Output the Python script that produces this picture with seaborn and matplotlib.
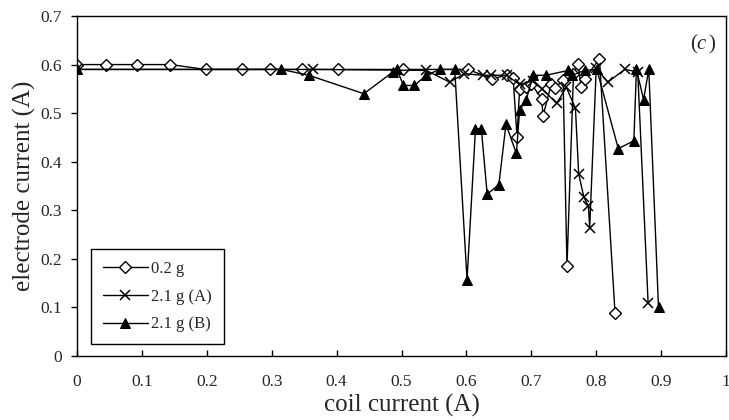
import pandas as pd
import matplotlib
matplotlib.use("Agg")
import matplotlib.pyplot as plt
import seaborn as sns

# 0.2 g (open diamonds)
x_02 = [0.0, 0.044, 0.092, 0.144, 0.198, 0.254, 0.298, 0.346, 0.402, 0.503,
        0.602, 0.64, 0.662, 0.672, 0.678, 0.682, 0.692, 0.70, 0.716, 0.718,
        0.731, 0.736, 0.749, 0.755, 0.765, 0.772, 0.777, 0.782, 0.805, 0.829]
y_02 = [0.60, 0.60, 0.60, 0.60, 0.59, 0.59, 0.59, 0.59, 0.59, 0.59,
        0.59, 0.571, 0.578, 0.573, 0.451, 0.55, 0.554, 0.56, 0.53, 0.494,
        0.561, 0.551, 0.568, 0.185, 0.58, 0.602, 0.553, 0.57, 0.612, 0.089]

# 2.1 g (A) (crosses)
x_a = [0.0, 0.364, 0.538, 0.574, 0.597, 0.626, 0.638, 0.662, 0.682, 0.702,
       0.717, 0.739, 0.754, 0.768, 0.773, 0.781, 0.788, 0.79, 0.80, 0.818,
       0.844, 0.864, 0.88]
y_a = [0.59, 0.59, 0.588, 0.564, 0.581, 0.578, 0.578, 0.578, 0.559, 0.566,
       0.55, 0.52, 0.553, 0.51, 0.375, 0.327, 0.308, 0.264, 0.592, 0.564,
       0.59, 0.585, 0.109]

# 2.1 g (B) (filled triangles)
x_b = [0.0, 0.315, 0.357, 0.442, 0.487, 0.493, 0.503, 0.52, 0.538, 0.559,
       0.582, 0.601, 0.614, 0.623, 0.632, 0.65, 0.661, 0.677, 0.682, 0.692,
       0.703, 0.723, 0.757, 0.763, 0.782, 0.801, 0.834, 0.858, 0.862, 0.873,
       0.881, 0.896]
y_b = [0.59, 0.59, 0.578, 0.54, 0.585, 0.59, 0.557, 0.557, 0.578, 0.59,
       0.59, 0.157, 0.468, 0.468, 0.333, 0.353, 0.477, 0.417, 0.506, 0.527,
       0.578, 0.578, 0.588, 0.578, 0.588, 0.59, 0.427, 0.443, 0.59, 0.528,
       0.59, 0.10]

x_ticks = [0, 0.1, 0.2, 0.3, 0.4, 0.5, 0.6, 0.7, 0.8, 0.9, 1]
x_tick_labels = ["0", "0.1", "0.2", "0.3", "0.4", "0.5", "0.6", "0.7", "0.8", "0.9", "1"]
y_ticks = [0, 0.1, 0.2, 0.3, 0.4, 0.5, 0.6, 0.7]
y_tick_labels = ["0", "0.1", "0.2", "0.3", "0.4", "0.5", "0.6", "0.7"]


def main():
    sns.set_style("white")
    plt.rcParams['font.family'] = ['Liberation Serif', 'DejaVu Serif']
    plt.rcParams['mathtext.fontset'] = 'custom'
    plt.rcParams['mathtext.it'] = 'Liberation Serif:italic'
    plt.rcParams['mathtext.rm'] = 'Liberation Serif'

    fig = plt.figure(figsize=(7.29, 4.2), dpi=100)
    ax = fig.add_axes([77 / 729, 1 - 356 / 420, 649 / 729, 340 / 420])

    series = [
        ("0.2 g", x_02, y_02, dict(marker="D", markersize=6, markerfacecolor="white",
                                   markeredgecolor="black", markeredgewidth=1.0)),
        ("2.1 g (A)", x_a, y_a, dict(marker="x", markersize=7.5, markeredgecolor="black",
                                     markeredgewidth=1.1)),
        ("2.1 g (B)", x_b, y_b, dict(marker="^", markersize=7.5, markerfacecolor="black",
                                     markeredgecolor="black")),
    ]
    for name, xs, ys, style in series:
        df = pd.DataFrame({"coil": xs, "electrode": ys})
        sns.lineplot(data=df, x="coil", y="electrode", ax=ax, sort=False, estimator=None,
                     color="black", linewidth=1.0, label=name, **style)

    ax.set_xlim(0, 1)
    ax.set_ylim(0, 0.7)
    ax.set_xticks(x_ticks)
    ax.set_xticklabels(x_tick_labels)
    ax.set_yticks(y_ticks)
    ax.set_yticklabels(y_tick_labels)
    ax.tick_params(axis="x", direction="in", length=4, width=1, pad=13, labelsize=12.5,
                   bottom=True, color="black")
    ax.tick_params(axis="y", direction="out", length=4, width=1, pad=7, labelsize=12.5,
                   left=True, color="black")
    for sp in ax.spines.values():
        sp.set_color("black")
        sp.set_linewidth(1.0)

    ax.set_xlabel("coil current (A)", fontsize=18, labelpad=3)
    ax.set_ylabel("electrode current (A)", fontsize=18, labelpad=3)
    ax.text(0.985, 0.915, r"$(c\,)$", transform=ax.transAxes, ha="right", va="center",
            fontsize=15)

    leg = ax.legend(loc="lower left", bbox_to_anchor=(0.022, 0.035), fontsize=12,
                    frameon=True, fancybox=False, edgecolor="black", framealpha=1,
                    handlelength=2.7, labelspacing=0.7, borderpad=0.7, handletextpad=0.2,
                    borderaxespad=0)
    leg.get_frame().set_linewidth(1.0)

    fig.savefig("out.png", dpi=100, facecolor="white")


if __name__ == "__main__":
    main()
